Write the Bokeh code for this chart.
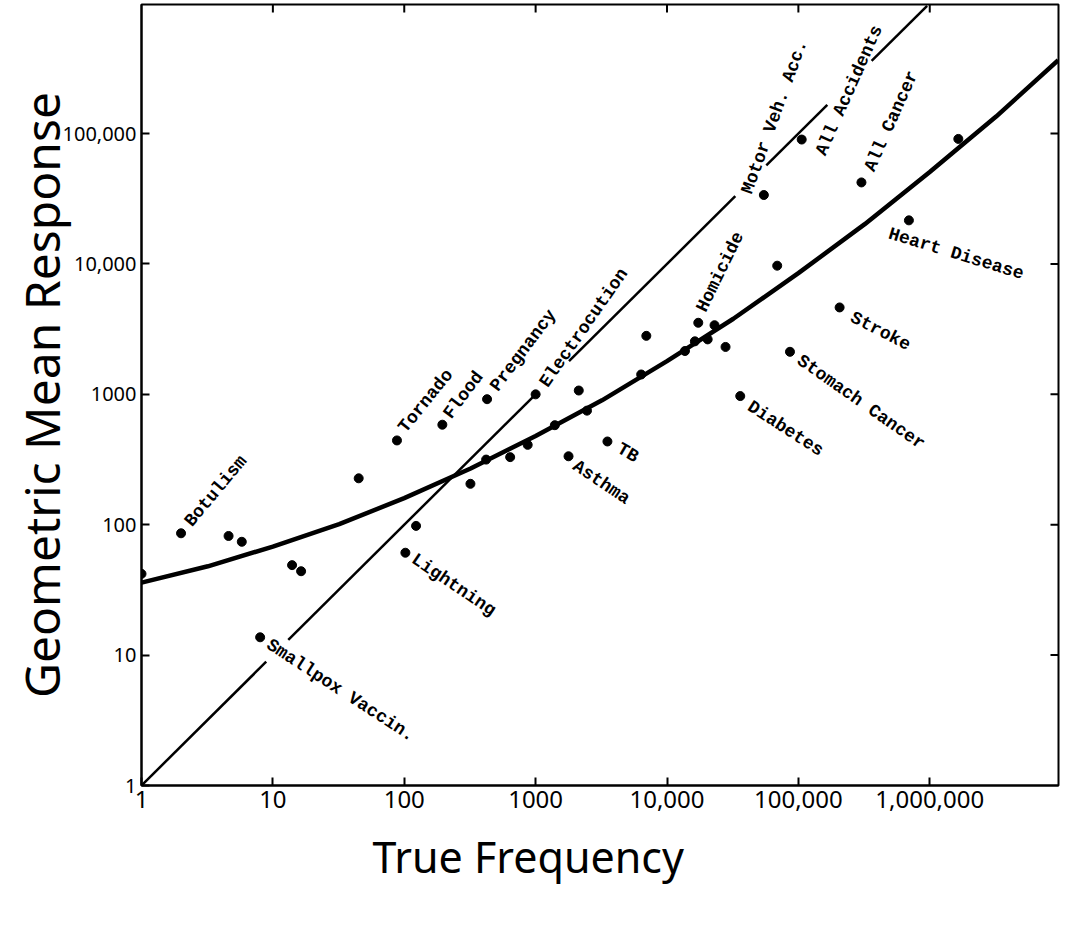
import math
from bokeh.plotting import figure
from bokeh.models import FixedTicker, Range1d, ColumnDataSource, Title
from bokeh.core.properties import value
from bokeh.embed import file_html
from bokeh.resources import INLINE

# Labelled hazards: true annual deaths vs. geometric mean of judged deaths
hazard_names = ["Botulism", "Smallpox Vaccin.", "Lightning", "Tornado", "Flood",
                "Pregnancy", "Electrocution", "Asthma", "TB", "Homicide",
                "Diabetes", "Motor Veh. Acc.", "Stomach Cancer", "All Accidents",
                "Stroke", "All Cancer", "Heart Disease"]
hazard_true = [2, 8, 102, 88, 195, 427, 1000, 1780, 3520, 17300,
               36100, 54600, 86300, 106000, 206000, 302000, 694000]
hazard_judged = [86, 13.7, 61, 443, 585, 918, 1000, 335, 435, 3540,
                 970, 33800, 2120, 90000, 4640, 42200, 21600]

# Unlabelled hazards
other_true = [1, 4.6, 5.8, 14, 16.4, 45, 123, 319, 420, 640, 870, 1400,
              2130, 2460, 6360, 6960, 13700, 16300, 20400, 23000, 27900,
              69000, 1650000]
other_judged = [42, 82, 74, 49, 44, 227, 98, 206, 316, 330, 410, 580,
                1070, 750, 1420, 2810, 2150, 2550, 2640, 3390, 2310,
                9700, 91000]

# Best-fit curve through the judgments
fit_true = [1, 3.2, 10, 32, 100, 320, 1000, 3200, 10000, 32000, 100000,
            320000, 1000000, 3200000, 9500000]
fit_judged = [36, 48, 68, 101, 160, 270, 480, 900, 1800, 3800, 8500,
              20200, 50700, 135000, 365000]

# Line of perfect accuracy (judged = true), broken where labels cross it
accuracy_pieces = [(1, 8.9), (13.1, 1000), (1795, 33100), (57000, 166000),
                   (361000, 955000)]

x_ticks = [1, 10, 100, 1000, 10000, 100000, 1000000]
x_tick_labels = ["1", "10", "100", "1000", "10,000", "100,000", "1,000,000"]
y_ticks = [1, 10, 100, 1000, 10000, 100000]
y_tick_labels = ["1", "10", "100", "1000", "10,000", "100,000"]

# Label placement: rotation (deg) and pixel offset (right, up) from each dot
label_layout = {
    "Botulism": (50, 7, 9),
    "Smallpox Vaccin.": (-33, 8, -6),
    "Lightning": (-34, 8, -5),
    "Tornado": (51, 5, 10),
    "Flood": (53, 5, 8),
    "Pregnancy": (53, 7, 10),
    "Electrocution": (55, 8, 9),
    "Asthma": (-34, 6, -8),
    "TB": (-30, 11, -6),
    "Homicide": (64, 3, 12),
    "Diabetes": (-33, 9, -9),
    "Stomach Cancer": (-35, 9, -7),
    "Stroke": (-27, 12, -9),
    "Heart Disease": (-17, -20, -13),
    "Motor Veh. Acc.": (70, -17, 2),
    "All Accidents": (66, 19, -15),
    "All Cancer": (66, 8, 12),
}

X_MAX = 10 ** 6.98
Y_MAX = 10 ** 5.99

p = figure(width=1065, height=929, x_axis_type="log", y_axis_type="log",
           x_range=Range1d(1, X_MAX), y_range=Range1d(1, Y_MAX),
           output_backend="svg", toolbar_location=None,
           min_border_left=141, min_border_right=7, min_border_top=4,
           min_border_bottom=144)
p.background_fill_color = "white"
p.border_fill_color = "white"
p.outline_line_color = "black"
p.outline_line_width = 2
p.grid.visible = False

tick_font = "Noto Sans"


def style_axis(ax, ticks, labels, size):
    ax.ticker = FixedTicker(ticks=ticks, minor_ticks=[])
    ax.major_label_overrides = {t: l for t, l in zip(ticks, labels)}
    ax.major_tick_in = 8
    ax.major_tick_out = 0
    ax.major_tick_line_width = 2
    ax.major_tick_line_color = "black"
    ax.minor_tick_line_color = None
    ax.axis_line_width = 2
    ax.axis_line_color = "black"
    ax.major_label_text_font = tick_font
    ax.major_label_text_color = "black"
    ax.major_label_text_font_size = size


style_axis(p.xaxis[0], x_ticks, x_tick_labels, "24px")
style_axis(p.yaxis[0], y_ticks, y_tick_labels, "20px")
p.xaxis[0].major_label_standoff = 5
p.yaxis[0].major_label_standoff = 5

p.yaxis[0].axis_label = "Geometric Mean Response"
p.yaxis[0].axis_label_text_font = "Noto Sans"
p.yaxis[0].axis_label_text_font_style = "normal"
p.yaxis[0].axis_label_text_color = "black"
p.yaxis[0].axis_label_text_font_size = "48px"
p.yaxis[0].axis_label_text_line_height = 1.0
p.yaxis[0].axis_label_standoff = -14

# x-axis title, set left of centre under the frame
p.add_layout(Title(text="True Frequency", align="left", offset=231,
                   text_font="Noto Sans", text_font_style="normal",
                   text_font_size="43px", text_color="black", standoff=28),
             "below")

# Inward tick marks on the top and right edges of the frame
p.ray(x=x_ticks[1:], y=[Y_MAX] * (len(x_ticks) - 1), length=8,
      length_units="screen", angle=-math.pi / 2, line_color="black",
      line_width=2)
p.ray(x=[X_MAX] * (len(y_ticks) - 1), y=y_ticks[1:], length=8,
      length_units="screen", angle=math.pi, line_color="black", line_width=2)

# Perfect-accuracy line
p.multi_line(xs=[list(seg) for seg in accuracy_pieces],
             ys=[list(seg) for seg in accuracy_pieces],
             line_color="black", line_width=2.5)

# Fitted curve
p.line(fit_true, fit_judged, line_color="black", line_width=4.5)

# Hazard dots
p.scatter(other_true, other_judged, size=9, color="black")
p.scatter(hazard_true, hazard_judged, size=9, color="black")

# Hazard names, rotated beside their dots
angles, dxs, dys = [], [], []
for name in hazard_names:
    deg, dx, dy = label_layout[name]
    angles.append(math.radians(deg))
    dxs.append(dx)
    dys.append(-dy)
src = ColumnDataSource(dict(x=hazard_true, y=hazard_judged, text=hazard_names,
                            angle=angles, dx=dxs, dy=dys))
p.text(x="x", y="y", text="text", angle="angle", x_offset="dx", y_offset="dy",
       source=src, text_font=value("Liberation Mono"), text_font_style="bold",
       text_font_size="18px", text_color="black", text_align="left",
       text_baseline="middle")

open("out.html", "w").write(file_html(p, INLINE))
